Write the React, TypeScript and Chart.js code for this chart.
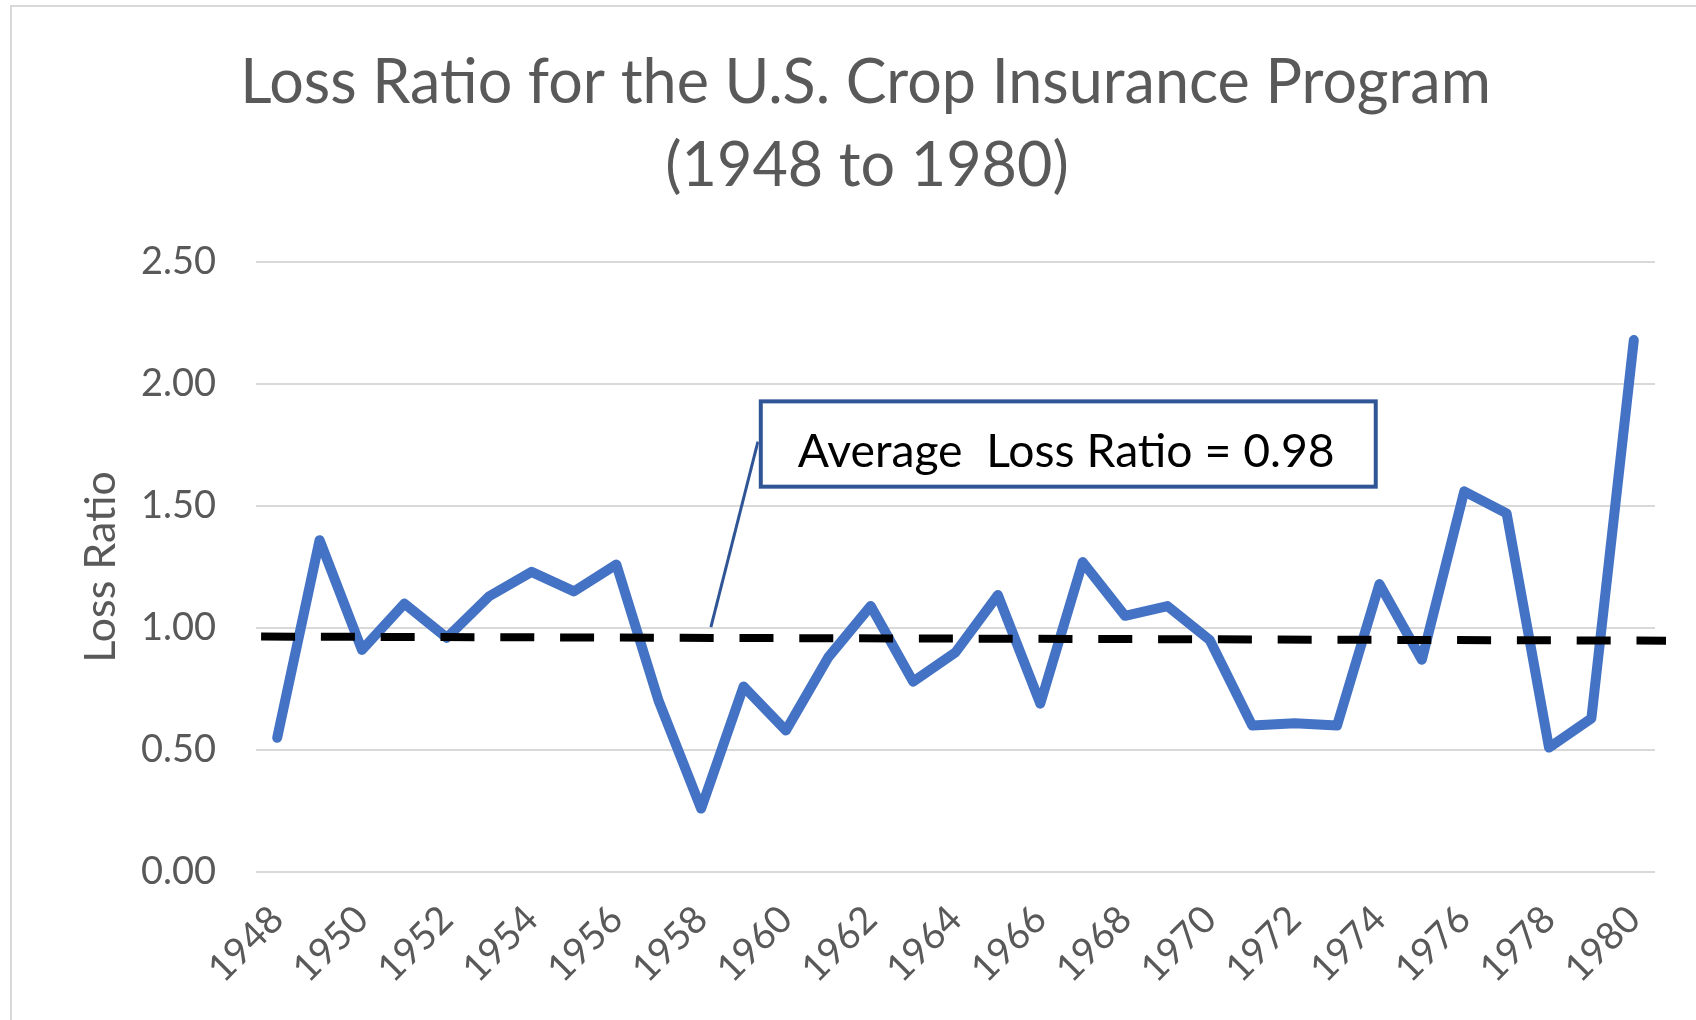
import React, { useEffect, useRef } from "react";
import { Chart, registerables } from "chart.js";

Chart.register(...registerables);

// ---------- data ----------
const YEARS: string[] = [
  "1948", "1949", "1950", "1951", "1952", "1953", "1954", "1955", "1956", "1957",
  "1958", "1959", "1960", "1961", "1962", "1963", "1964", "1965", "1966", "1967",
  "1968", "1969", "1970", "1971", "1972", "1973", "1974", "1975", "1976", "1977",
  "1978", "1979", "1980",
];
const LOSS_RATIO: number[] = [
  0.55, 1.36, 0.91, 1.10, 0.96, 1.13, 1.23, 1.15, 1.26, 0.70,
  0.26, 0.76, 0.58, 0.88, 1.09, 0.78, 0.90, 1.135, 0.69, 1.27,
  1.05, 1.09, 0.95, 0.60, 0.61, 0.60, 1.18, 0.87, 1.56, 1.47,
  0.51, 0.63, 2.18,
];
const Y_MIN = 0;
const Y_MAX = 2.5;
const Y_STEP = 0.5;
const TITLE_LINES: string[] = ["Loss Ratio for the U.S. Crop Insurance Program", "(1948 to 1980)"];
const Y_TITLE = "Loss Ratio";
const AVERAGE_LABEL = "Average  Loss Ratio = 0.98";
// hand-drawn average line (value at its start and end, in the chart's own units)
const AVERAGE_LINE_VALUES: number[] = [0.965, 0.948];
const AVERAGE_LINE_INDEX: number[] = [-0.38, 32.76];
// callout box and its connector, in category index / value units
const CALLOUT_INDEX: number[] = [11.36, 25.96];
const CALLOUT_VALUES: number[] = [1.937, 1.571];
const CONNECTOR_INDEX: number[] = [10.23, 11.34];
const CONNECTOR_VALUES: number[] = [1.004, 1.764];

// ---------- styles ----------
const FONT = "Lato";
const GREY_TEXT = "#595959";
const GRID = "#D9D9D9";
const LINE_BLUE = "#4472C4";
const CALLOUT_BLUE = "#2F5597";

function fitFont(ctx: CanvasRenderingContext2D, text: string, width: number, base: number) {
  ctx.font = `${base}px ${FONT}`;
  const w = ctx.measureText(text).width;
  return (base * width) / w;
}

const framePlugin = {
  id: "frame",
  beforeDraw(chart: any) {
    const { ctx, width, height } = chart;
    ctx.save();
    ctx.fillStyle = "#ffffff";
    ctx.fillRect(0, 0, width, height);
    ctx.strokeStyle = GRID;
    ctx.lineWidth = 2;
    ctx.beginPath();
    ctx.moveTo(11, height);
    ctx.lineTo(11, 6);
    ctx.lineTo(width, 6);
    ctx.stroke();
    ctx.restore();
  },
};

const titlePlugin = {
  id: "customTitle",
  afterDraw(chart: any) {
    const { ctx } = chart;
    ctx.save();
    const size = fitFont(ctx, TITLE_LINES[0], 1251, 60);
    ctx.font = `${size}px ${FONT}`;
    ctx.fillStyle = GREY_TEXT;
    ctx.textAlign = "center";
    ctx.textBaseline = "alphabetic";
    ctx.fillText(TITLE_LINES[0], 865.5, 103);
    ctx.fillText(TITLE_LINES[1], 867, 186);
    ctx.restore();
  },
};

const averagePlugin = {
  id: "averageLine",
  afterDatasetsDraw(chart: any) {
    const { ctx } = chart;
    const xs = chart.scales.x;
    const ys = chart.scales.y;
    ctx.save();
    // dashed average line
    ctx.strokeStyle = "#000000";
    ctx.lineWidth = 8;
    ctx.setLineDash([34, 25.8]);
    ctx.lineCap = "butt";
    ctx.beginPath();
    ctx.moveTo(xs.getPixelForValue(AVERAGE_LINE_INDEX[0]), ys.getPixelForValue(AVERAGE_LINE_VALUES[0]));
    ctx.lineTo(xs.getPixelForValue(AVERAGE_LINE_INDEX[1]), ys.getPixelForValue(AVERAGE_LINE_VALUES[1]));
    ctx.stroke();
    ctx.setLineDash([]);

    // connector
    ctx.strokeStyle = CALLOUT_BLUE;
    ctx.lineWidth = 3;
    ctx.beginPath();
    ctx.moveTo(xs.getPixelForValue(CONNECTOR_INDEX[0]), ys.getPixelForValue(CONNECTOR_VALUES[0]));
    ctx.lineTo(xs.getPixelForValue(CONNECTOR_INDEX[1]), ys.getPixelForValue(CONNECTOR_VALUES[1]));
    ctx.stroke();

    // callout box
    const l = xs.getPixelForValue(CALLOUT_INDEX[0]);
    const r = xs.getPixelForValue(CALLOUT_INDEX[1]);
    const t = ys.getPixelForValue(CALLOUT_VALUES[0]);
    const b = ys.getPixelForValue(CALLOUT_VALUES[1]);
    ctx.fillStyle = "#ffffff";
    ctx.fillRect(l, t, r - l, b - t);
    ctx.lineWidth = 4;
    ctx.strokeRect(l + 2, t + 2, r - l - 4, b - t - 4);
    const size = fitFont(ctx, AVERAGE_LABEL, 537, 44);
    ctx.font = `${size}px ${FONT}`;
    ctx.fillStyle = "#000000";
    ctx.textAlign = "left";
    ctx.textBaseline = "alphabetic";
    ctx.fillText(AVERAGE_LABEL, l + 39, t + 68);
    ctx.restore();
  },
};

export default function App() {
  const canvasRef = useRef<HTMLCanvasElement | null>(null);

  useEffect(() => {
    const canvas = canvasRef.current;
    if (!canvas) return;
    const chart = new Chart(canvas, {
      type: "line",
      data: {
        labels: YEARS,
        datasets: [
          {
            label: "Loss Ratio",
            data: LOSS_RATIO,
            borderColor: LINE_BLUE,
            backgroundColor: LINE_BLUE,
            borderWidth: 10,
            pointRadius: 0,
            pointHoverRadius: 0,
            tension: 0,
            borderJoinStyle: "round",
            borderCapStyle: "round",
            fill: false,
          },
        ],
      },
      options: {
        responsive: false,
        animation: false,
        devicePixelRatio: 1,
        layout: { padding: { top: 262, right: 41, left: 0, bottom: 0 } },
        plugins: {
          legend: { display: false },
          tooltip: { enabled: false },
          title: { display: false },
        },
        scales: {
          x: {
            type: "category",
            offset: true,
            grid: { display: false, drawTicks: false },
            border: { display: false },
            ticks: {
              autoSkip: false,
              maxRotation: 45,
              minRotation: 45,
              color: GREY_TEXT,
              font: { family: FONT, size: 38 },
              padding: 25,
              callback: (_v: any, i: number) => (i % 2 === 0 ? YEARS[i] : ""),
            },
            afterFit: (s: any) => {
              s.height = 148;
            },
          },
          y: {
            min: Y_MIN,
            max: Y_MAX,
            ticks: {
              stepSize: Y_STEP,
              color: GREY_TEXT,
              font: { family: FONT, size: 38 },
              padding: 40,
              callback: (v: any) => Number(v).toFixed(2),
            },
            grid: { color: GRID, lineWidth: 2, drawTicks: false },
            border: { display: false },
            title: {
              display: true,
              text: Y_TITLE,
              color: GREY_TEXT,
              font: { family: FONT, size: 43 },
              padding: { top: 75, bottom: 0 },
            },
            afterFit: (s: any) => {
              s.width = 256;
            },
          },
        },
      },
      plugins: [framePlugin, averagePlugin, titlePlugin],
    } as any);
    return () => chart.destroy();
  }, []);

  return (
    <div style={{ position: "fixed", left: 0, top: 0, width: 1696, height: 1020, background: "#fff" }}>
      <canvas ref={canvasRef} width={1696} height={1020} style={{ display: "block", width: 1696, height: 1020 }} />
    </div>
  );
}
